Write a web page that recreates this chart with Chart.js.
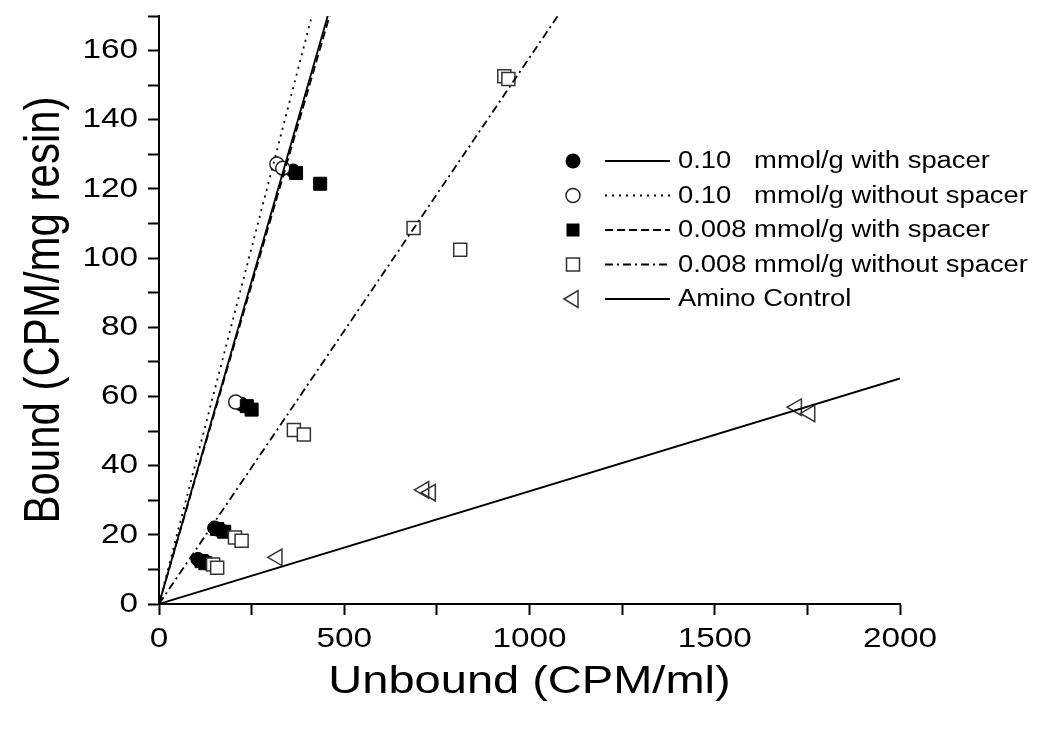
<!DOCTYPE html>
<html><head><meta charset="utf-8">
<script src="https://cdn.jsdelivr.net/npm/chart.js@4/dist/chart.umd.min.js"></script>
<style>html,body{margin:0;padding:0;background:#fff}canvas{display:block}</style>
</head><body>
<canvas id="c" width="1050" height="737"></canvas>
<script>
// ---- data (x = Unbound CPM/ml, y = Bound CPM/mg resin) ----
const seriesNames = ['0.10   mmol/g with spacer', '0.10   mmol/g without spacer', '0.008 mmol/g with spacer', '0.008 mmol/g without spacer', 'Amino Control'];
const filledCircleX = [105, 150, 222, 362];
const filledCircleY = [12.9, 22.0, 57.8, 125.2];
const openCircleX = [128, 165, 207, 318, 334];
const openCircleY = [11.9, 21.3, 58.4, 127.2, 126.0];
const filledSquareX = [115, 125, 157, 176, 237, 250, 370, 435];
const filledSquareY = [12.4, 11.8, 21.7, 20.9, 57.2, 56.2, 124.6, 121.5];
const openSquareX = [146, 157, 205, 223, 364, 391, 687, 813, 932, 943];
const openSquareY = [11.4, 10.5, 19.2, 18.3, 50.3, 49.0, 108.7, 102.4, 152.6, 151.8];
const triangleX = [319, 715, 733, 1721, 1757];
const triangleY = [13.5, 33.0, 32.2, 56.9, 55.1];
// fitted lines: start at origin, end points read where they leave the plot
const fitEndX = [457, 414, 462, 1080, 2000];
const fitEndY = [170.6, 170.6, 170.6, 170.6, 65.2];
const xMajorTicks = [0, 500, 1000, 1500, 2000];
const yMajorTicks = [0, 20, 40, 60, 80, 100, 120, 140, 160];

const FONT = '"Liberation Sans", Arial, Helvetica, sans-serif';
const STRETCH = 1.19;
const dashes = [[], [2, 5], [8, 4], [8, 4, 2, 4], []];

const canvas = document.getElementById('c');
const ctx = canvas.getContext('2d');
// the reference typeface is widened horizontally on the page; widen every text run in screen x
const origFill = CanvasRenderingContext2D.prototype.fillText;
ctx.fillText = function (t, x, y) {
  const m = this.getTransform();
  const p = m.transformPoint(new DOMPoint(x, y));
  const n = new DOMMatrix().translate(p.x, p.y).scale(STRETCH, 1).translate(-p.x, -p.y).multiply(m);
  this.save(); this.setTransform(n); origFill.call(this, t, x, y); this.restore();
};

function pts(xs, ys) { return xs.map((x, i) => ({ x: x, y: ys[i] })); }

const markerSets = [
  { data: pts(filledCircleX, filledCircleY), pointStyle: 'circle', pointRadius: 7, backgroundColor: '#000', borderColor: '#000', borderWidth: 1, order: 5 },
  { data: pts(openCircleX, openCircleY), pointStyle: 'circle', pointRadius: 7, backgroundColor: '#fff', borderColor: '#222', borderWidth: 1.5, order: 4 },
  { data: pts(filledSquareX, filledSquareY), pointStyle: 'rect', pointRadius: 9.2, backgroundColor: '#000', borderColor: '#000', borderWidth: 1, order: 3 },
  { data: pts(openSquareX, openSquareY), pointStyle: 'rect', pointRadius: 9.2, backgroundColor: '#fff', borderColor: '#333', borderWidth: 1.5, order: 2 },
  { data: pts(triangleX, triangleY), pointStyle: 'triangle', rotation: 270, pointRadius: 9.5, backgroundColor: 'rgba(255,255,255,0)', borderColor: '#333', borderWidth: 1.5, order: 1 }
];
const datasets = markerSets.map((m, i) => Object.assign({ label: seriesNames[i], showLine: false, pointRotation: m.rotation || 0 }, m));
fitEndX.forEach((ex, i) => {
  datasets.push({
    label: seriesNames[i] + ' fit', data: [{ x: 0, y: 0 }, { x: ex, y: fitEndY[i] }],
    showLine: true, pointRadius: 0, borderColor: '#000', borderWidth: 1.8, borderDash: dashes[i],
    fill: false, tension: 0, order: 0
  });
});

const legendPlugin = {
  id: 'refLegend',
  afterDraw(chart) {
    const c = chart.ctx;
    const mx = 573, lx0 = 605, lx1 = 670, tx = 678;
    seriesNames.forEach((name, i) => {
      const y = 161 + 34.5 * i;
      c.save();
      c.lineWidth = 1.5;
      c.strokeStyle = '#222';
      c.fillStyle = '#000';
      c.beginPath();
      if (i === 0) { c.arc(mx, y, 7.5, 0, Math.PI * 2); c.fill(); }
      else if (i === 1) { c.arc(mx, y, 7, 0, Math.PI * 2); c.fillStyle = '#fff'; c.fill(); c.stroke(); }
      else if (i === 2) { c.rect(mx - 6.5, y - 6.5, 13, 13); c.fill(); }
      else if (i === 3) { c.rect(mx - 6.5, y - 6.5, 13, 13); c.strokeStyle = '#333'; c.stroke(); }
      else { c.moveTo(mx - 9, y); c.lineTo(mx + 5, y - 8.5); c.lineTo(mx + 5, y + 8.5); c.closePath(); c.strokeStyle = '#333'; c.stroke(); }
      c.restore();
      c.save();
      c.strokeStyle = '#000'; c.lineWidth = 1.8; c.setLineDash(dashes[i]);
      c.beginPath(); c.moveTo(lx0, y); c.lineTo(lx1, y); c.stroke();
      c.restore();
      c.save();
      c.fillStyle = '#000'; c.font = '23px ' + FONT; c.textAlign = 'left'; c.textBaseline = 'middle';
      c.fillText(name, tx, y + 1);
      c.restore();
    });
  }
};

Chart.defaults.font.family = FONT;
Chart.defaults.color = '#000';

new Chart(ctx, {
  type: 'scatter',
  data: { datasets: datasets },
  options: {
    responsive: false, animation: false, devicePixelRatio: 1,
    layout: { padding: { top: 16, right: 150, left: 0, bottom: 0 } },
    plugins: { legend: { display: false }, tooltip: { enabled: false } },
    scales: {
      x: {
        type: 'linear', min: 0, max: 2000,
        afterFit(s) { s.height = 133; s.paddingLeft = 0; s.paddingRight = 0; },
        border: { display: true, color: '#000', width: 2 },
        grid: { display: true, drawOnChartArea: false, drawTicks: true, tickLength: 11, tickWidth: 2, tickColor: '#000' },
        ticks: { stepSize: 250, autoSkip: false, maxRotation: 0, minRotation: 0, padding: 7, color: '#000', font: { size: 28 },
          callback: v => xMajorTicks.includes(v) ? String(v) : '' },
        title: { display: true, text: 'Unbound (CPM/ml)', color: '#000', font: { size: 39.5 }, padding: { top: 0, bottom: 31 } }
      },
      y: {
        type: 'linear', min: 0, max: 170,
        afterFit(s) { s.width = 159; s.paddingTop = 0; s.paddingBottom = 0; },
        border: { display: true, color: '#000', width: 2 },
        grid: { display: true, drawOnChartArea: false, drawTicks: true, tickLength: 11, tickWidth: 2, tickColor: '#000' },
        ticks: { stepSize: 10, autoSkip: false, padding: 10, color: '#000', font: { size: 28 },
          callback: v => yMajorTicks.includes(v) ? String(v) : '' },
        title: { display: true, text: 'Bound (CPM/mg resin)', color: '#000', font: { size: 42 }, padding: { top: 20, bottom: 0 } }
      }
    }
  },
  plugins: [legendPlugin]
});
</script>
</body></html>
